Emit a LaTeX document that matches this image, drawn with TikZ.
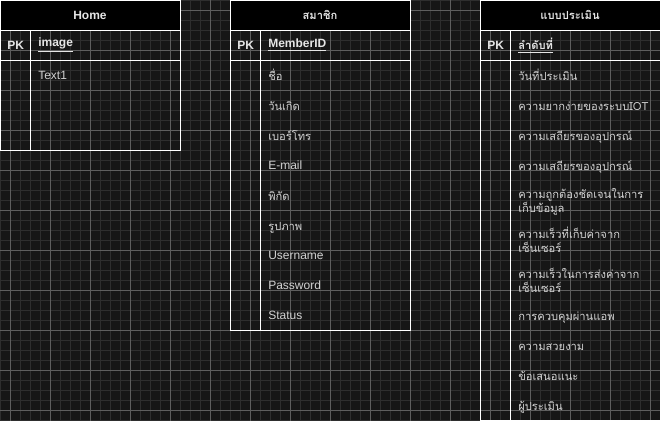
\documentclass[tikz,border=0pt]{standalone}
\usepackage{fontspec}
\setmainfont{Liberation Sans}
\newfontfamily\thai[Script=Thai,Scale=0.93]{Loma}
\definecolor{bgc}{HTML}{161616}
\definecolor{minorc}{HTML}{2E2E2E}
\definecolor{majorc}{HTML}{5E5E5E}
\definecolor{txtc}{HTML}{E6E6E6}
\definecolor{bodyc}{HTML}{D2D2D2}
\tikzset{
  minorline/.style={draw=minorc,line width=0.75pt},
  majorline/.style={draw=majorc,line width=0.75pt},
  tline/.style={draw=white,line width=0.75pt},
  headtxt/.style={text=txtc,font=\fontsize{9}{10.5}\selectfont\bfseries,inner sep=0pt},
  thaihead/.style={text=txtc,font=\thai\fontsize{9}{10.5}\selectfont\bfseries,inner sep=0pt,anchor=base},
  pktxt/.style={text=txtc,font=\fontsize{9}{10.5}\selectfont\bfseries,inner sep=0pt,anchor=west},
  thaipk/.style={text=txtc,font=\thai\fontsize{9}{10.5}\selectfont\bfseries,inner sep=0pt,anchor=base west},
  fieldtxt/.style={text=bodyc,font=\fontsize{9}{10.5}\selectfont,inner sep=0pt,anchor=west},
  thaifield/.style={text=bodyc,font=\thai\fontsize{9}{10.5}\selectfont,inner sep=0pt,anchor=base west},
}
\newcommand{\ertab}[2]{% x, bottom
  \fill[black] (#1,0) rectangle (#1+180,30);
  \draw[tline] (#1+0.5,0.5) rectangle (#1+180.5,#2+0.5);
  \draw[tline] (#1+0.5,30.5) -- (#1+180.5,30.5);
  \draw[tline] (#1+0.5,60.5) -- (#1+180.5,60.5);
  \draw[tline] (#1+30.5,30.5) -- (#1+30.5,#2+0.5);
}
\begin{document}
\begin{tikzpicture}[x=0.75pt,y=-0.75pt]
\useasboundingbox (0,0) rectangle (661,421);
\fill[bgc] (0,0) rectangle (661,421);
\foreach \x in {0,10,...,660} \draw[minorline] (\x+0.5,0) -- (\x+0.5,421);
\foreach \y in {0,10,...,420} \draw[minorline] (0,\y+0.5) -- (661,\y+0.5);
\foreach \x in {10,50,...,650} \draw[majorline] (\x+0.5,0) -- (\x+0.5,421);
\foreach \y in {10,50,...,410} \draw[majorline] (0,\y+0.5) -- (661,\y+0.5);

% Home
\ertab{0}{150}
\node[headtxt] (homeh) at (90,15) {Home};
\node[pktxt] (homepk) at (7,45) {PK};
\node[pktxt] (homekey) at (38,45) {\underline{image}};
\node[fieldtxt] (homef1) at (38,75) {Text1};

% Member
\ertab{230}{330}
\node[thaihead] (memh) at (320,20) {สมาชิก};
\node[pktxt] (mempk) at (237,45) {PK};
\node[pktxt] (memkey) at (268,45) {\underline{MemberID}};
\node[thaifield] (memf1) at (268,80) {ชื่อ};
\node[thaifield] (memf2) at (268,110) {วันเกิด};
\node[thaifield] (memf3) at (268,140) {เบอร์โทร};
\node[fieldtxt] (memf4) at (268,165) {E-mail};
\node[thaifield] (memf5) at (268,200) {พิกัด};
\node[thaifield] (memf6) at (268,230) {รูปภาพ};
\node[fieldtxt] (memf7) at (268,255) {Username};
\node[fieldtxt] (memf8) at (268,285) {Password};
\node[fieldtxt] (memf9) at (268,315) {Status};

% Evaluation
\ertab{480}{420}
\node[thaihead] (evah) at (570,20) {แบบประเมิน};
\node[pktxt] (evapk) at (487,45) {PK};
\node[thaipk] (evakey) at (518,50) {\underline{ลำดับที่}};
\node[thaifield] (evaf1) at (518,80) {วันที่ประเมิน};
\node[thaifield] (evaf2) at (518,110) {ความยากง่ายของระบบIOT};
\node[thaifield] (evaf3) at (518,140) {ความเสถียรของอุปกรณ์};
\node[thaifield] (evaf4) at (518,170) {ความเสถียรของอุปกรณ์};
\node[thaifield] (evaf5a) at (518,198) {ความถูกต้องชัดเจนในการ};
\node[thaifield] (evaf5b) at (518,212) {เก็บข้อมูล};
\node[thaifield] (evaf6a) at (518,238) {ความเร็วที่เก็บค่าจาก};
\node[thaifield] (evaf6b) at (518,252) {เซ็นเซอร์};
\node[thaifield] (evaf7a) at (518,278) {ความเร็วในการส่งค่าจาก};
\node[thaifield] (evaf7b) at (518,292) {เซ็นเซอร์};
\node[thaifield] (evaf8) at (518,320) {การควบคุมผ่านแอพ};
\node[thaifield] (evaf9) at (518,350) {ความสวยงาม};
\node[thaifield] (evaf10) at (518,380) {ข้อเสนอแนะ};
\node[thaifield] (evaf11) at (518,410) {ผู้ประเมิน};
\end{tikzpicture}
\end{document}
